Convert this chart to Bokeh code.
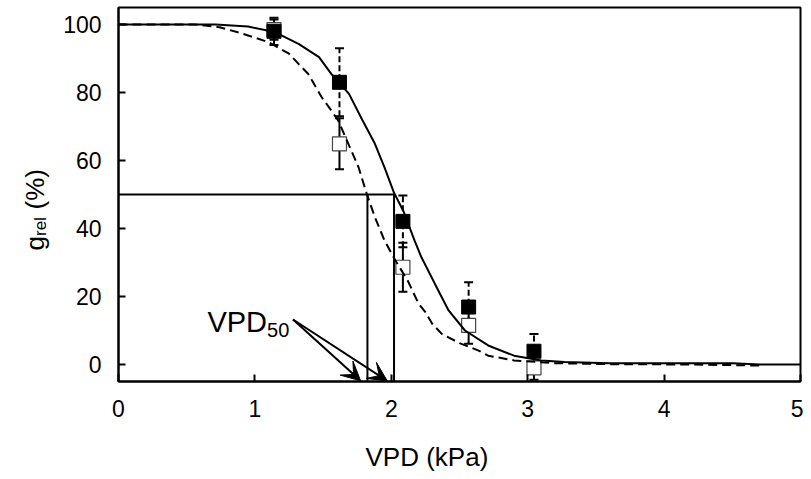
import math
from bokeh.plotting import figure
from bokeh.layouts import row
from bokeh.models import (ColumnDataSource, Whisker, TeeHead, Arrow, VeeHead,
                          Label, FixedTicker, Range1d, Title)
from bokeh.core.properties import value
from bokeh.embed import file_html
from bokeh.resources import INLINE

# ---------------- data ----------------
x_ticks = [0, 1, 2, 3, 4, 5]
y_ticks = [0, 20, 40, 60, 80, 100]

# fitted curves
solid_x = [0.0, 0.71, 0.95, 1.15, 1.32, 1.47, 1.56, 1.69, 1.78, 1.88, 1.95, 2.02, 2.09,
           2.17, 2.22, 2.32, 2.42, 2.54, 2.71, 2.90, 3.10, 3.27, 3.60, 4.00, 4.50, 4.70, 5.00]
solid_y = [100, 100, 99.4, 97.7, 94.3, 90.4, 85.5, 79.6, 72.5, 64.9, 58.0, 50.5, 45.0,
           36.5, 31.6, 23.7, 15.9, 10.0, 5.6, 2.6, 1.2, 0.7, 0.4, 0.4, 0.4, 0.0, 0.0]

dash_x = [0.0, 0.56, 0.74, 0.91, 1.10, 1.25, 1.32, 1.39, 1.49, 1.56, 1.61, 1.68, 1.76, 1.82,
          1.88, 1.95, 2.03, 2.12, 2.20, 2.25, 2.30, 2.37, 2.50, 2.64, 2.71, 2.90, 3.19, 3.60,
          4.20, 4.70]
dash_y = [100, 100, 99.2, 97.3, 94.8, 91.4, 88.4, 85.5, 78.6, 74.7, 71.8, 65.4, 58.0, 50.2,
          43.3, 36.5, 30.6, 24.7, 17.9, 15.4, 12.0, 9.0, 6.3, 4.1, 2.6, 1.2, 0.4, 0.1,
          0.0, -0.3]

# measured points (mean, error)
pt_x = [1.14, 1.62, 2.085, 2.567, 3.046]
filled_y = [98.0, 83.0, 42.1, 16.9, 3.9]
filled_err = [4.0, 10.0, 7.6, 7.3, 5.1]
open_y = [98.5, 64.9, 28.6, 11.5, -1.0]
open_err = [3.0, 7.5, 7.2, 5.4, 3.5]

# VPD50 values and the 50 % level
vpd50 = [1.825, 2.02]
half = 50.0

FONT = "Liberation Sans"
H = 478
TOP, BOTTOM = 7, 97

# ---------------- main figure ----------------
p = figure(width=743, height=H, x_range=Range1d(0, 5), y_range=Range1d(-5, 105),
           output_backend="svg", toolbar_location=None,
           min_border_left=56, min_border_right=3, min_border_top=TOP, min_border_bottom=BOTTOM)
p.background_fill_color = "white"
p.border_fill_color = "white"
p.outline_line_color = "black"
p.outline_line_width = 2
p.xgrid.visible = False
p.ygrid.visible = False

for ax, ticks in ((p.xaxis, x_ticks), (p.yaxis, y_ticks)):
    ax.ticker = FixedTicker(ticks=ticks)
    ax.axis_line_width = 2
    ax.major_tick_line_width = 2
    ax.major_tick_in = 7
    ax.major_tick_out = 0
    ax.minor_tick_line_color = None
    ax.major_label_text_font = FONT
    ax.major_label_text_font_size = "23px"
    ax.major_label_text_color = "black"
p.xaxis.major_label_standoff = 18
p.yaxis.major_label_standoff = 17

# x-axis title (placed off-centre like in the original)
xtitle = Title(text="VPD (kPa)", align="left", offset=247, standoff=22,
               text_font=FONT, text_font_size="26px", text_font_style="normal",
               text_color="black")
if "padding" in xtitle.properties():
    xtitle.padding = dict(top=20, bottom=0, left=0, right=0)
    xtitle.standoff = 0
p.add_layout(xtitle, "below")

# frame pixel (page coords) -> data helpers, for annotation placement only
def px2x(px):
    return (px - 116) / 136.8

def py2y(py):
    return (381 - py) / 3.4 - 5

# ---------------- error bars ----------------
fsrc = ColumnDataSource(dict(x=pt_x, y=filled_y,
                             lo=[a - b for a, b in zip(filled_y, filled_err)],
                             hi=[a + b for a, b in zip(filled_y, filled_err)]))
osrc = ColumnDataSource(dict(x=pt_x, y=open_y,
                             lo=[a - b for a, b in zip(open_y, open_err)],
                             hi=[a + b for a, b in zip(open_y, open_err)]))

wf = Whisker(source=fsrc, base="x", lower="lo", upper="hi", level="underlay",
             line_width=2, line_dash="6 3", line_color="black",
             upper_head=TeeHead(size=9, line_width=2, line_color="black"),
             lower_head=TeeHead(size=9, line_width=2, line_color="black"))
wo = Whisker(source=osrc, base="x", lower="lo", upper="hi", level="underlay",
             line_width=2, line_color="black",
             upper_head=TeeHead(size=9, line_width=2, line_color="black"),
             lower_head=TeeHead(size=9, line_width=2, line_color="black"))
p.add_layout(wf)
p.add_layout(wo)

# ---------------- markers ----------------
p.scatter("x", "y", source=osrc, marker="square", size=14, fill_color="white",
          line_color="#444444", line_width=1.2)
p.scatter("x", "y", source=fsrc, marker="square", size=14, fill_color="black",
          line_color="black", line_width=1)

# ---------------- curves ----------------
p.line(solid_x, solid_y, line_color="black", line_width=2)
p.line(dash_x, dash_y, line_color="black", line_width=2, line_dash="9 5")

# ---------------- VPD50 construction lines ----------------
p.line([0, vpd50[1]], [half, half], line_color="black", line_width=2)
p.segment(x0=vpd50, y0=[half, half], x1=vpd50, y1=[-5, -5], line_color="black", line_width=2)

# ---------------- VPD50 label and arrows ----------------
p.add_layout(Label(x=px2x(265), y=py2y(321), text="VPD", text_font=FONT,
                   text_font_size="29px", text_align="right", text_baseline="alphabetic",
                   text_color="black"))
p.add_layout(Label(x=px2x(265), y=py2y(329), text="50", text_font=FONT,
                   text_font_size="20px", text_align="left", text_baseline="alphabetic",
                   text_color="black"))
for tip in vpd50:
    p.add_layout(Arrow(x_start=px2x(291), y_start=py2y(319),
                       x_end=tip - 0.05, y_end=-4.8,
                       line_width=2, line_color="black",
                       end=VeeHead(size=19, fill_color="black", line_color="black")))

# ---------------- y-axis title panel: g_rel (%) ----------------
# frame aligned with the main frame (same top/bottom borders, same y range)
pl = figure(width=60, height=H, x_range=Range1d(0, 60), y_range=Range1d(-5, 105),
            output_backend="svg", toolbar_location=None,
            x_axis_type=None, y_axis_type=None,
            min_border_left=0, min_border_right=0, min_border_top=TOP, min_border_bottom=BOTTOM)
pl.outline_line_color = None
pl.background_fill_color = "white"
pl.border_fill_color = "white"

ang = math.pi / 2
pl.text(x=[34], y=[py2y(250)], text=["g"], angle=ang, text_font=value(FONT),
        text_font_size=value("26px"), text_align="left", text_baseline="alphabetic",
        text_color="black")
pl.text(x=[39.5], y=[py2y(235.5)], text=["rel"], angle=ang, text_font=value(FONT),
        text_font_size=value("17px"), text_align="left", text_baseline="alphabetic",
        text_color="black")
pl.text(x=[34], y=[py2y(209)], text=["(%)"], angle=ang, text_font=value(FONT),
        text_font_size=value("26px"), text_align="left", text_baseline="alphabetic",
        text_color="black")

layout = row(pl, p, spacing=0)
open("out.html", "w").write(file_html(layout, INLINE))
